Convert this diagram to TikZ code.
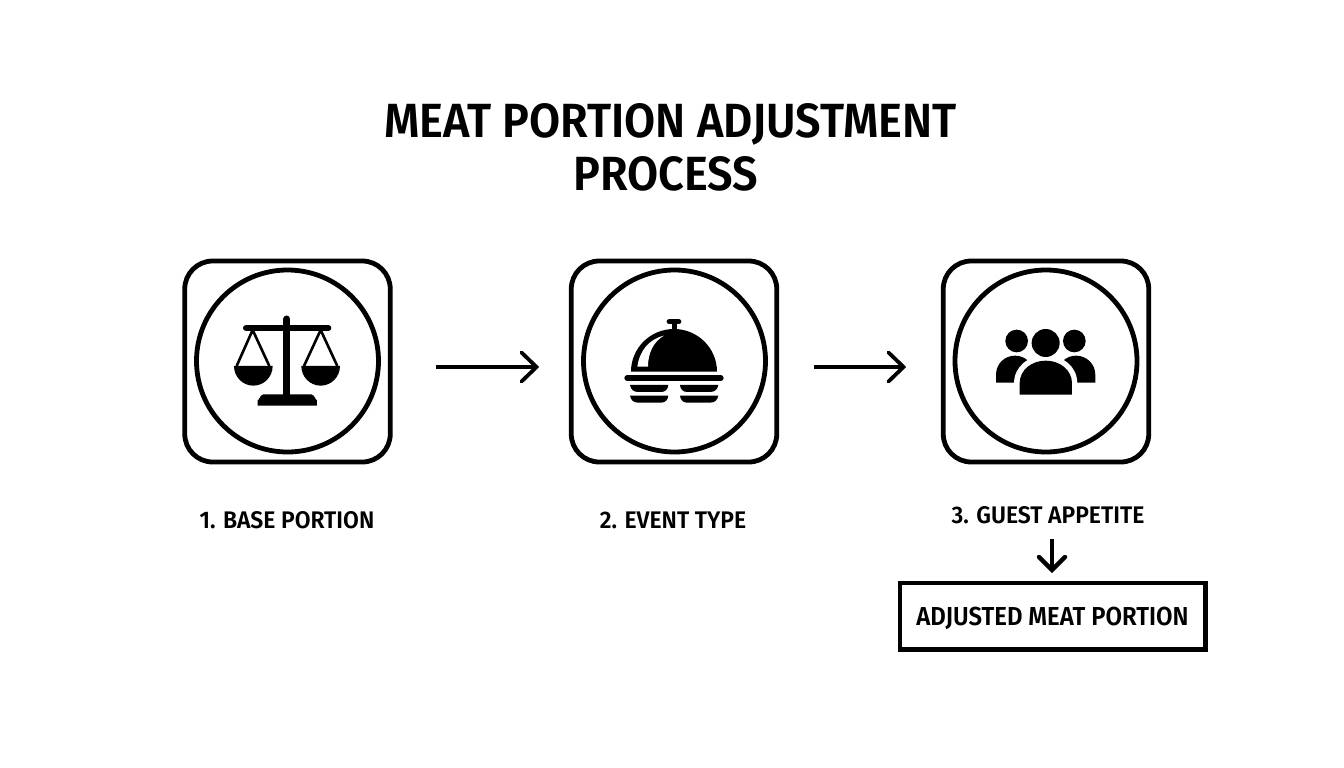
\documentclass[tikz,border=0pt]{standalone}
\usepackage{fontspec}
\usetikzlibrary{calc}
\setmainfont{Fira Sans}[BoldFont={Fira Sans SemiBold}]
\newfontfamily\titlefont{Fira Sans SemiBold}[FakeStretch=0.94]
\newfontfamily\labelfont{Fira Sans SemiBold}[FakeStretch=0.955]
\newfontfamily\resfont{Fira Sans SemiBold}[FakeStretch=0.92]
\tikzset{
  frame/.style={draw=black,line width=4.8pt,rounded corners=28pt,fill=white,minimum width=205.5pt,minimum height=201pt},
  ring/.style={draw=black,line width=4.8pt,circle,inner sep=0pt,minimum size=182pt,fill=white},
  flow/.style={draw=black,line width=3.8pt},
  label/.style={font=\labelfont\fontsize{24}{28}\selectfont,inner sep=0pt,text=black,text height=17pt,text depth=0pt},
  titletext/.style={font=\titlefont\fontsize{48}{53}\selectfont,inner sep=0pt,align=center,text=black},
  ink/.style={fill=black,draw=none},
  stem/.style={draw=black,line cap=round}
}
\begin{document}
\begin{tikzpicture}[x=1pt,y=-1pt]
\useasboundingbox (0,0) rectangle (1344,768);
\fill[white] (0,0) rectangle (1344,768);
\node[titletext] (title) at (670.5,147) {MEAT PORTION ADJUSTMENT\\PROCESS\hspace*{9pt}};
\node[frame] (b1) at (287.5,361.5) {};
\node[frame] (b2) at (674,361.5) {};
\node[frame] (b3) at (1046,361.5) {};
\node[ring] (c1) at (287.5,361) {};
\node[ring] (c2) at (674.5,361) {};
\node[ring] (c3) at (1046,361) {};
% scales
\begin{scope}[shift={(170,250)},x=0.3333pt,y=-0.3333pt]
\draw[stem,line width=6pt] (228,234) -- (475,234);
\draw[stem,line width=7pt] (351,207) -- (351,440);
\fill[ink] (263,467) -- (263,450) to[out=-90,in=180] (280,433) -- (424,433) to[out=0,in=-90] (441,450) -- (441,467) -- cycle;
\draw[line width=2.6pt,line join=round] (200,348) -- (248,240) -- (298,348);
\draw[line width=2.6pt,line join=round] (402,348) -- (452,240) -- (502,348);
\fill[ink] (308,348) arc[start angle=0,end angle=180,x radius=58,y radius=59] -- cycle;
\fill[ink] (510,348) arc[start angle=0,end angle=180,x radius=58,y radius=59] -- cycle;
\end{scope}
% cloche
\begin{scope}[shift={(560,250)},x=0.3333pt,y=-0.3333pt]
\draw[stem,line width=5.5pt] (328,215) -- (356,215);
\fill[ink] (335,215) rectangle (350,245);
\fill[ink] (213,365) arc[start angle=180,end angle=360,x radius=129,y radius=128] -- cycle;
\fill[white] (232,350) -- (264,350) .. controls (264,310) and (280,275) .. (312,257) .. controls (265,268) and (238,305) .. (232,350) -- cycle;
\draw[stem,line width=5.3pt] (201,384) -- (483,384);
\foreach \yy in {405,437}{
  \fill[ink] (210,\yy) -- (325,\yy) .. controls (324,\yy+12) and (316,\yy+21) .. (304,\yy+21) -- (234,\yy+21) .. controls (220,\yy+21) and (212,\yy+12) .. (210,\yy) -- cycle;
  \fill[ink] (360,\yy) -- (475,\yy) .. controls (473,\yy+12) and (465,\yy+21) .. (451,\yy+21) -- (381,\yy+21) .. controls (369,\yy+21) and (361,\yy+12) .. (360,\yy) -- cycle;
}
\end{scope}
% people
\begin{scope}[shift={(930,250)},x=0.3333pt,y=-0.3333pt]
\fill[ink] (260,273) circle[radius=34];
\fill[ink] (433,273) circle[radius=34];
\fill[ink] (198,398) -- (198,375) .. controls (198,340) and (225,317) .. (255,317) .. controls (285,317) and (312,340) .. (312,375) -- (312,398) -- cycle;
\fill[ink] (496,398) -- (496,375) .. controls (496,340) and (468,317) .. (438,317) .. controls (408,317) and (382,340) .. (382,375) -- (382,398) -- cycle;
\fill[white] (252,434) -- (252,400) .. controls (252,350) and (295,316) .. (347,316) .. controls (399,316) and (442,350) .. (442,400) -- (442,434) -- cycle;
\fill[ink] (347,279) circle[radius=42];
\fill[ink] (269,434) -- (269,400) .. controls (269,360) and (305,332) .. (347,332) .. controls (390,332) and (426,360) .. (426,400) -- (426,434) -- cycle;
\end{scope}
% labels
\node[label] (l1) at (287,520) {1. BASE PORTION};
\node[label] (l2) at (673,520) {2. EVENT TYPE};
\node[label] (l3) at (1048,515) {3. GUEST APPETITE};
\node[draw=black,line width=4.5pt,minimum width=305.5pt,minimum height=66.5pt,inner sep=0pt,text height=18pt,text depth=0pt,font=\resfont\fontsize{26}{30}\selectfont] (res) at (1052.5,616) {ADJUSTED MEAT PORTION};
% connectors
\coordinate (a1s) at (436,367); \coordinate (a1e) at (536.5,367);
\coordinate (a2s) at (814,367); \coordinate (a2e) at (903.5,367);
\coordinate (a3s) at (1052,539); \coordinate (a3e) at (1052,570);
\draw[flow] (a1s) -- (a1e);
\draw[flow,line cap=round] ($(a1e)+(-15,-14.5)$) -- (a1e) -- ($(a1e)+(-15,14.5)$);
\draw[flow] (a2s) -- (a2e);
\draw[flow,line cap=round] ($(a2e)+(-15,-14.5)$) -- (a2e) -- ($(a2e)+(-15,14.5)$);
\draw[flow,line width=4.4pt] (a3s) -- (a3e);
\draw[flow,line width=4.4pt,line cap=round] ($(a3e)+(-13,-13)$) -- (a3e) -- ($(a3e)+(13,-13)$);
\end{tikzpicture}
\end{document}
